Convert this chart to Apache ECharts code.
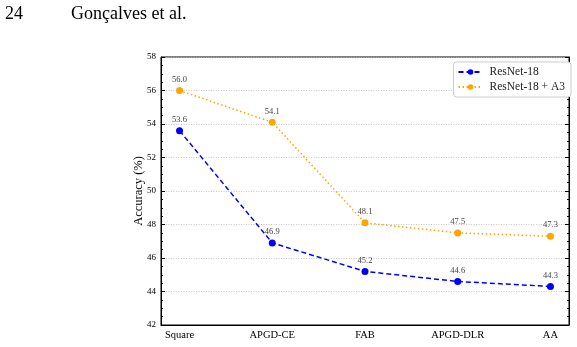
<!DOCTYPE html>
<html>
<head>
<meta charset="utf-8">
<script src="https://cdn.jsdelivr.net/npm/echarts@6/dist/echarts.min.js"></script>
<style>
  html, body { margin: 0; padding: 0; background: #fff; }
  #chart { width: 577px; height: 347px; }
</style>
</head>
<body>
<div id="chart"></div>
<script>
// attacks on the x axis
const categories = ['Square', 'APGD-CE', 'FAB', 'APGD-DLR', 'AA'];
const resnet = [53.6, 46.9, 45.2, 44.6, 44.3];
const resnetA3 = [56.0, 54.1, 48.1, 47.5, 47.3];
const yTicks = [42, 44, 46, 48, 50, 52, 54, 56, 58];

const serif = 'Liberation Serif';
const chart = echarts.init(document.getElementById('chart'));

function toPoints(arr) {
  return arr.map((v, i) => [i, v]);
}

const yCommon = {
  type: 'value',
  min: yTicks[0],
  max: yTicks[yTicks.length - 1],
  interval: 2,
  axisLine: { show: true, onZero: false, lineStyle: { color: '#000', width: 1 } },
  axisTick: { show: true, inside: true, length: 4, lineStyle: { color: '#000' } },
  minorTick: { show: true, splitNumber: 4, length: 2, lineStyle: { color: '#000' } },
};

chart.setOption({
  animation: false,
  title: [
    { text: '24', left: 0, top: 0, textStyle: { fontFamily: serif, fontSize: 18, fontWeight: 'normal', color: '#000' } },
    { text: 'Gonçalves et al.', left: 66, top: 0, textStyle: { fontFamily: serif, fontSize: 18, fontWeight: 'normal', color: '#000' } }
  ],
  grid: { left: 161, right: 8, top: 57, bottom: 22, show: true, borderColor: '#000', borderWidth: 1 },
  legend: {
    right: 6, top: 62, orient: 'vertical',
    itemWidth: 24, itemHeight: 7, itemGap: 3,
    backgroundColor: '#fff', borderColor: '#ccc', borderWidth: 1, borderRadius: 3,
    padding: [4, 6, 4, 4],
    textStyle: { fontFamily: serif, fontSize: 11.5, color: '#222', padding: [0, 0, 0, 2] }
  },
  xAxis: {
    type: 'value',
    min: -0.2, max: 4.2,
    splitLine: { show: false },
    axisLine: { show: true, onZero: false, lineStyle: { color: '#000' } },
    axisTick: { show: false },
    axisLabel: {
      customValues: [0, 1, 2, 3, 4],
      formatter: v => categories[Math.round(v)],
      fontFamily: serif, fontSize: 10.5, color: '#000', margin: 5
    }
  },
  yAxis: [
    Object.assign({}, yCommon, {
      position: 'left',
      name: 'Accuracy (%)', nameLocation: 'middle', nameGap: 16, nameMoveOverlap: false,
      nameTextStyle: { fontFamily: serif, fontSize: 12.5, color: '#000' },
      axisLabel: { fontFamily: serif, fontSize: 9, color: '#000', margin: 5 },
      splitLine: { show: true, lineStyle: { color: '#bbb', type: [1, 1.5], width: 0.8 } }
    }),
    Object.assign({}, yCommon, {
      position: 'right',
      axisLabel: { show: false },
      splitLine: { show: false }
    })
  ],
  series: [
    {
      name: 'ResNet-18', type: 'line', data: toPoints(resnet),
      symbol: 'circle', symbolSize: 7,
      itemStyle: { color: '#0000ff' },
      lineStyle: { color: '#0000ff', width: 1.5, type: [5, 3] },
      label: { show: true, position: 'top', distance: 3, formatter: p => p.value[1].toFixed(1),
        fontFamily: serif, fontSize: 8.5, color: '#444' }
    },
    {
      name: 'ResNet-18 + A3', type: 'line', data: toPoints(resnetA3),
      symbol: 'circle', symbolSize: 7,
      itemStyle: { color: '#ffa500' },
      lineStyle: { color: '#ffa500', width: 1.5, type: [1.5, 2.5] },
      label: { show: true, position: 'top', distance: 3, formatter: p => p.value[1].toFixed(1),
        fontFamily: serif, fontSize: 8.5, color: '#444' }
    }
  ]
});
</script>
</body>
</html>
